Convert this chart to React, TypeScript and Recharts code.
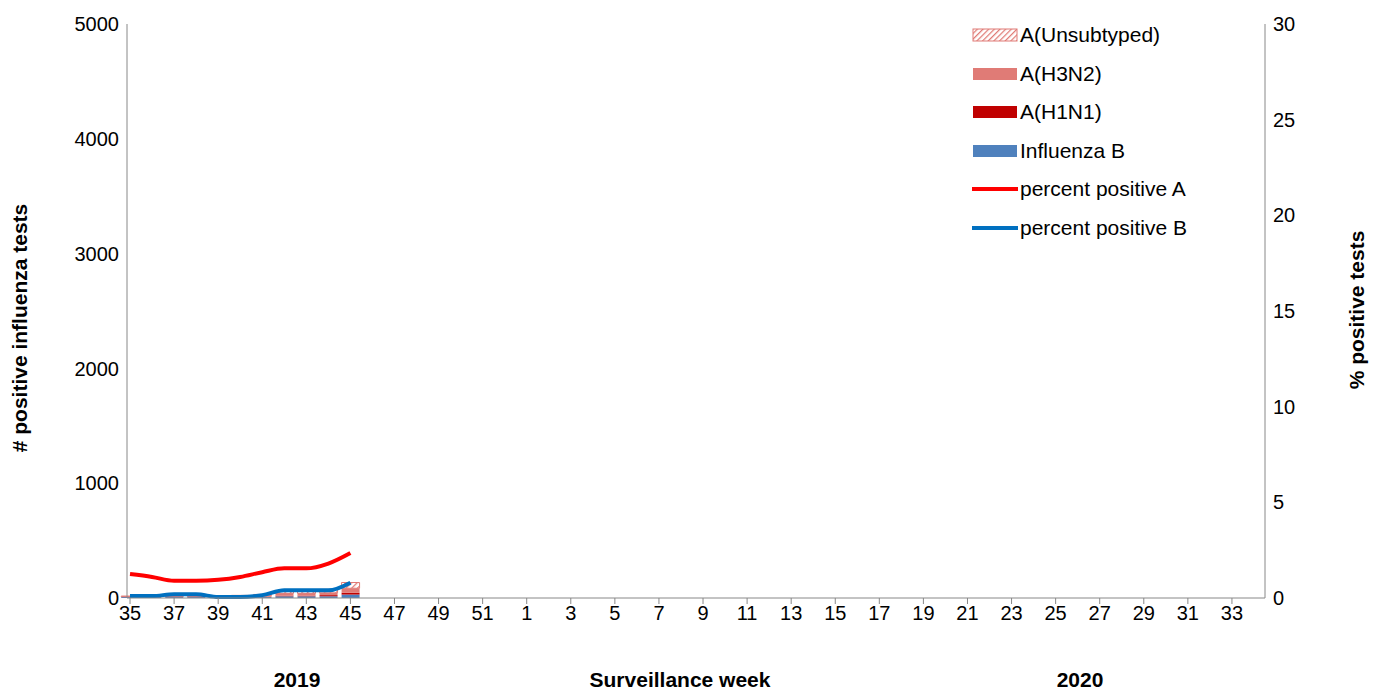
import React from 'react';
import { ComposedChart, Bar, Line, XAxis, YAxis } from 'recharts';

const weeks = [35,36,37,38,39,40,41,42,43,44,45,46,47,48,49,50,51,52,1,2,3,4,5,6,7,8,9,10,11,12,13,14,15,16,17,18,19,20,21,22,23,24,25,26,27,28,29,30,31,32,33,34];
const unsub = [5,3,3,3,3,8,10,25,25,30,50];
const h3n2 = [3,3,3,3,3,8,10,20,20,20,40];
const h1n1 = [1,1,1,1,1,2,3,5,5,10,15];
const fluB = [8,8,8,8,5,5,8,15,15,15,30];
const pctA = [1.25,1.1,0.9,0.9,0.95,1.1,1.35,1.55,1.55,1.8,2.35];
const pctB = [0.1,0.1,0.2,0.2,0.05,0.05,0.15,0.4,0.4,0.4,0.8];

const data = weeks.map((w, i) => ({
  week: String(w),
  unsub: unsub[i], h3n2: h3n2[i], h1n1: h1n1[i], fluB: fluB[i],
  pctA: pctA[i], pctB: pctB[i],
}));

const font = '"Liberation Sans", Arial, sans-serif';
const tick = { fontSize: 20, fill: '#000', fontFamily: font };

const legend = [
  { t: 'A(Unsubtyped)', k: 'hatch' },
  { t: 'A(H3N2)', c: '#e07b76' },
  { t: 'A(H1N1)', c: '#c00000' },
  { t: 'Influenza B', c: '#4f81bd' },
  { t: 'percent positive A', c: '#ff0000', line: true },
  { t: 'percent positive B', c: '#0070c0', line: true },
];

export default function App() {
  return (
    <div style={{ position: 'absolute', left: 0, top: 0, width: 1380, height: 691, background: '#fff', fontFamily: font }}>
      <ComposedChart width={1380} height={691} data={data} barCategoryGap="10%"
        margin={{ top: 24, left: 67, right: 65, bottom: 63 }}>
        <defs>
          <pattern id="hatch" patternUnits="userSpaceOnUse" width="4" height="4" patternTransform="rotate(45)">
            <rect width="4" height="4" fill="#fff" />
            <line x1="0" y1="0" x2="0" y2="4" stroke="#e07b76" strokeWidth="2.5" />
          </pattern>
        </defs>
        <XAxis dataKey="week" interval={1} tick={tick} tickLine={{ stroke: '#888' }} axisLine={{ stroke: '#888' }} height={30} padding={{ left: -8, right: 0 }} />
        <YAxis yAxisId="l" domain={[0, 5000]} ticks={[0,1000,2000,3000,4000,5000]} tick={tick} tickLine={false} axisLine={{ stroke: '#888' }} width={60} />
        <YAxis yAxisId="r" orientation="right" domain={[0, 30]} ticks={[0,5,10,15,20,25,30]} tick={tick} tickLine={false} axisLine={{ stroke: '#888' }} width={50} />
        <Bar yAxisId="l" dataKey="fluB" stackId="s" fill="#4f81bd" isAnimationActive={false} />
        <Bar yAxisId="l" dataKey="h1n1" stackId="s" fill="#c00000" isAnimationActive={false} />
        <Bar yAxisId="l" dataKey="h3n2" stackId="s" fill="#e07b76" isAnimationActive={false} />
        <Bar yAxisId="l" dataKey="unsub" stackId="s" fill="url(#hatch)" stroke="#e07b76" isAnimationActive={false} />
        <Line yAxisId="r" dataKey="pctA" stroke="#ff0000" strokeWidth={4} dot={false} type="monotone" isAnimationActive={false} />
        <Line yAxisId="r" dataKey="pctB" stroke="#0070c0" strokeWidth={4} dot={false} type="monotone" isAnimationActive={false} />
      </ComposedChart>
      <div style={{ position: 'absolute', left: 20, top: 328, transform: 'translate(-50%,-50%) rotate(-90deg)', fontWeight: 'bold', fontSize: 21, whiteSpace: 'nowrap' }}># positive influenza tests</div>
      <div style={{ position: 'absolute', left: 1357, top: 310, transform: 'translate(-50%,-50%) rotate(-90deg)', fontWeight: 'bold', fontSize: 21, whiteSpace: 'nowrap' }}>% positive tests</div>
      <div style={{ position: 'absolute', left: 297, top: 680, transform: 'translate(-50%,-50%)', fontWeight: 'bold', fontSize: 21 }}>2019</div>
      <div style={{ position: 'absolute', left: 680, top: 680, transform: 'translate(-50%,-50%)', fontWeight: 'bold', fontSize: 21, whiteSpace: 'nowrap' }}>Surveillance week</div>
      <div style={{ position: 'absolute', left: 1080, top: 680, transform: 'translate(-50%,-50%)', fontWeight: 'bold', fontSize: 21 }}>2020</div>
      {legend.map((l, i) => (
        <div key={i} style={{ position: 'absolute', left: 972, top: 23 + i * 38.5, display: 'flex', alignItems: 'center', fontSize: 21, whiteSpace: 'nowrap' }}>
          {l.line ? (
            <div style={{ width: 46, height: 4, background: l.c, marginRight: 2 }} />
          ) : (
            <svg width={46} height={14} style={{ marginRight: 2 }}>
              <rect x={1} y={1} width={44} height={12} fill={l.k === 'hatch' ? 'url(#hatch)' : l.c} stroke={l.k === 'hatch' ? '#e07b76' : 'none'} />
            </svg>
          )}
          <span>{l.t}</span>
        </div>
      ))}
    </div>
  );
}
